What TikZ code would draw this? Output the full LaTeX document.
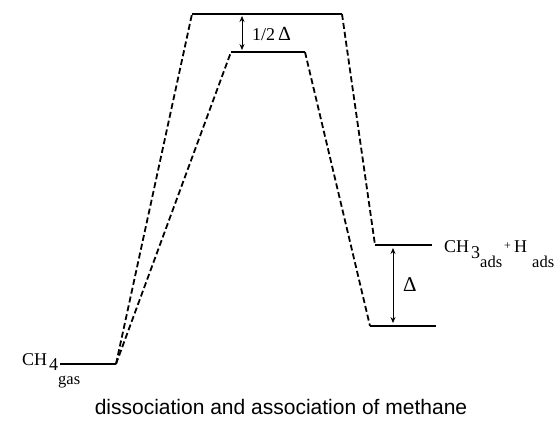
\documentclass[tikz,border=0pt]{standalone}
\usepackage{fontspec}
\setmainfont{Liberation Serif}
\newfontfamily\capfont{Liberation Sans}
\usetikzlibrary{arrows.meta}
\begin{document}
\begin{tikzpicture}[x=1pt,y=-1pt,
  level/.style={line width=1.8pt},
  dsh/.style={line width=1.8pt,dash pattern=on 6pt off 3pt},
  gap/.style={line width=0.7pt,{Stealth[length=6pt,width=5pt,inset=2pt]}-{Stealth[length=6pt,width=5pt,inset=2pt]}},
  lbl/.style={inner sep=0pt,font=\fontsize{18}{20}\selectfont},
  sub/.style={inner sep=0pt,font=\fontsize{16.5}{18}\selectfont}]
\useasboundingbox (0,0) rectangle (555,430);
% coordinates
\coordinate (g1) at (60,364);
\coordinate (g2) at (116,364);
\coordinate (a1) at (192,14);
\coordinate (a2) at (342,14);
\coordinate (b1) at (231,52);
\coordinate (b2) at (305,52);
\coordinate (c1) at (375,245);
\coordinate (c2) at (432,245);
\coordinate (d1) at (370,326);
\coordinate (d2) at (436,326);
% levels
\draw[level] (g1) -- (g2);
\draw[level] (a1) -- (a2);
\draw[level] (b1) -- (b2);
\draw[level] (c1) -- (c2);
\draw[level] (d1) -- (d2);
% dashed paths
\draw[dsh] (g2) -- (a1);
\draw[dsh] (a2) -- (c1);
\draw[dsh] (g2) -- (b1);
\draw[dsh] (b2) -- (d1);
% gap arrows
\coordinate (h1) at (242,16);
\coordinate (h2) at (242,50);
\draw[gap] (h1) -- (h2);
\node[lbl,anchor=base west] (half) at (252,41) {1/2\,{\fontsize{20}{20}\selectfont Δ}};
\coordinate (k1) at (393,248);
\coordinate (k2) at (393,323);
\draw[gap] (k1) -- (k2);
\node[lbl,anchor=base west,font=\fontsize{21}{22}\selectfont] (delta) at (403,292) {Δ};
% species labels: CH3ads + Hads
\node[lbl,anchor=base west] (ch3a) at (444,253) {CH};
\node[lbl,anchor=base west] (ch3b) at (471,259) {3};
\node[sub,anchor=base west] (ch3c) at (480,268) {ads};
\node[lbl,anchor=base west,font=\fontsize{12}{13}\selectfont] (plus) at (504,250) {+};
\node[lbl,anchor=base west] (hh) at (514,253) {H};
\node[sub,anchor=base west] (hads) at (532,268) {ads};
% CH4 gas
\node[lbl,anchor=base west] (ch4a) at (22,366) {CH};
\node[lbl,anchor=base west] (ch4b) at (49,371) {4};
\node[sub,anchor=base west] (ch4c) at (58,385) {gas};
% caption
\node[inner sep=0pt,anchor=base,font=\capfont\fontsize{21}{24}\selectfont] (cap) at (281,415) {dissociation and association of methane};
\end{tikzpicture}
\end{document}
